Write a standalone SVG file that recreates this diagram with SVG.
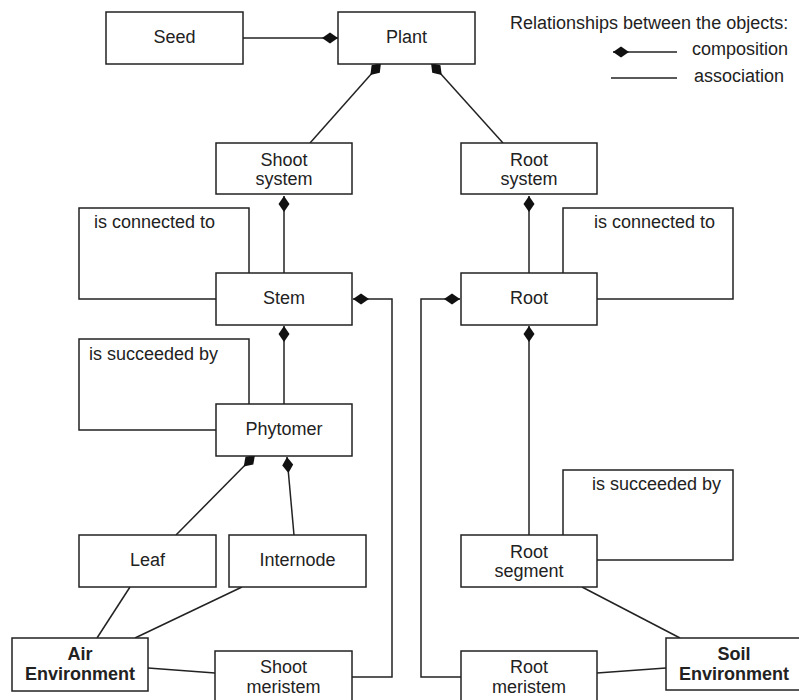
<svg xmlns="http://www.w3.org/2000/svg" width="799" height="700" viewBox="0 0 799 700">
<style>
.box{fill:#fff;stroke:#222;stroke-width:1.5}
.ln{fill:none;stroke:#222;stroke-width:1.5}
text{font-family:"Liberation Sans",Arial,sans-serif;font-size:18px;fill:#222}
.c{text-anchor:middle}
.b{font-weight:bold}
</style>
<defs>
<marker id="dia" markerUnits="userSpaceOnUse" markerWidth="17" markerHeight="12" refX="16" refY="5.5" orient="auto" overflow="visible">
<path d="M0,5.5 L8,0 L16,5.5 L8,11 z" fill="#111"/>
</marker>
<marker id="diaStart" markerUnits="userSpaceOnUse" markerWidth="17" markerHeight="12" refX="0" refY="5.5" orient="auto" overflow="visible">
<path d="M0,5.5 L8,0 L16,5.5 L8,11 z" fill="#111"/>
</marker>
</defs>

<g id="connectors">
<line class="ln" x1="243" y1="38" x2="338" y2="38" marker-end="url(#dia)"/>
<line class="ln" x1="310" y1="143" x2="381" y2="63" marker-end="url(#dia)"/>
<line class="ln" x1="503" y1="143" x2="431" y2="63" marker-end="url(#dia)"/>
<line class="ln" x1="284" y1="273" x2="284" y2="196" marker-end="url(#dia)"/>
<line class="ln" x1="529" y1="273" x2="529" y2="196" marker-end="url(#dia)"/>
<polyline class="ln" points="249,273 249,208 79,208 79,299 216,299"/>
<polyline class="ln" points="563,273 563,208 733,208 733,299 597,299"/>
<polyline class="ln" points="352,677 392,677 392,299 353,299" marker-end="url(#dia)"/>
<polyline class="ln" points="461,677 421,677 421,299 460,299" marker-end="url(#dia)"/>
<line class="ln" x1="284" y1="404" x2="284" y2="326" marker-end="url(#dia)"/>
<line class="ln" x1="529" y1="535" x2="529" y2="326" marker-end="url(#dia)"/>
<polyline class="ln" points="249,404 249,339 79,339 79,430 216,430"/>
<polyline class="ln" points="563,535 563,470 733,470 733,560 597,560"/>
<line class="ln" x1="176" y1="535" x2="255" y2="455" marker-end="url(#dia)"/>
<line class="ln" x1="294" y1="535" x2="287" y2="457" marker-end="url(#dia)"/>
<line class="ln" x1="130" y1="587" x2="97" y2="638"/>
<line class="ln" x1="242" y1="587" x2="135" y2="638"/>
<line class="ln" x1="148" y1="668" x2="215" y2="673"/>
<line class="ln" x1="582" y1="587" x2="680" y2="638"/>
<line class="ln" x1="597" y1="673" x2="666" y2="668"/>
</g>

<g id="legend">
<text x="510" y="29">Relationships between the objects:</text>
<line class="ln" x1="677" y1="52" x2="613" y2="52" marker-end="url(#dia)"/>
<text x="692" y="55">composition</text>
<line class="ln" x1="611" y1="78" x2="677" y2="78"/>
<text x="694" y="82">association</text>
</g>

<g id="labels">
<text x="94" y="228">is connected to</text>
<text x="594" y="228">is connected to</text>
<text x="89" y="360">is succeeded by</text>
<text x="592" y="490">is succeeded by</text>
</g>

<g id="seed"><rect class="box" x="106" y="12" width="137" height="52"/><text class="c" x="174.5" y="42.5">Seed</text></g>
<g id="plant"><rect class="box" x="338" y="12" width="137" height="52"/><text class="c" x="406.5" y="42.5">Plant</text></g>
<g id="shoot-system"><rect class="box" x="216" y="143" width="136" height="51"/><text class="c" x="284" y="166">Shoot</text><text class="c" x="284" y="185">system</text></g>
<g id="root-system"><rect class="box" x="461" y="143" width="136" height="51"/><text class="c" x="529" y="166">Root</text><text class="c" x="529" y="185">system</text></g>
<g id="stem"><rect class="box" x="216" y="273" width="136" height="52"/><text class="c" x="284" y="303.5">Stem</text></g>
<g id="root"><rect class="box" x="461" y="273" width="136" height="52"/><text class="c" x="529" y="303.5">Root</text></g>
<g id="phytomer"><rect class="box" x="216" y="404" width="136" height="52"/><text class="c" x="284" y="434.5">Phytomer</text></g>
<g id="leaf"><rect class="box" x="79" y="535" width="137" height="52"/><text class="c" x="147.5" y="565.5">Leaf</text></g>
<g id="internode"><rect class="box" x="229" y="535" width="137" height="52"/><text class="c" x="297.5" y="565.5">Internode</text></g>
<g id="root-segment"><rect class="box" x="461" y="535" width="136" height="52"/><text class="c" x="529" y="558">Root</text><text class="c" x="529" y="577">segment</text></g>
<g id="air-environment"><rect class="box" x="12" y="638" width="136" height="53"/><text class="c b" x="80" y="660">Air</text><text class="c b" x="80" y="680">Environment</text></g>
<g id="soil-environment"><rect class="box" x="666" y="638" width="136" height="52"/><text class="c b" x="734" y="660">Soil</text><text class="c b" x="734" y="680">Environment</text></g>
<g id="shoot-meristem"><rect class="box" x="215" y="651" width="137" height="52"/><text class="c" x="283.5" y="673">Shoot</text><text class="c" x="283.5" y="693">meristem</text></g>
<g id="root-meristem"><rect class="box" x="461" y="651" width="136" height="52"/><text class="c" x="529" y="673">Root</text><text class="c" x="529" y="693">meristem</text></g>
</svg>
